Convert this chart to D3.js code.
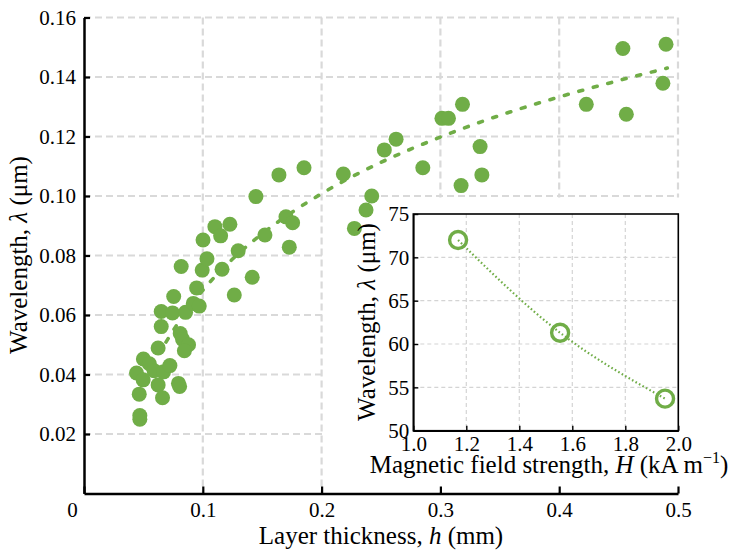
<!DOCTYPE html>
<html>
<head>
<meta charset="utf-8">
<title>Wavelength vs layer thickness</title>
<script src="https://d3js.org/d3.v7.min.js"></script>
<style>
  body { margin: 0; background: #fff; }
  svg text { font-family: "Liberation Serif", "Times New Roman", serif !important; fill: #000; }
</style>
</head>
<body>
<svg id="chart" width="733" height="550"></svg>
<script>
// main scatter: layer thickness h (mm) and wavelength
var thick = [0.047, 0.047, 0.0465, 0.0442, 0.0498, 0.0500, 0.0550, 0.0590, 0.0624, 0.0661,
             0.0670, 0.0723, 0.0795, 0.0805, 0.0624, 0.0650, 0.0650, 0.0745, 0.0755, 0.0855,
             0.0920, 0.0970, 0.0948, 0.0818, 0.0995, 0.1035, 0.1002, 0.1102, 0.1150, 0.1228,
             0.1162, 0.1265, 0.1298, 0.1416, 0.1523, 0.1447, 0.1641, 0.1852, 0.1700, 0.1756,
             0.1728, 0.0810, 0.0830, 0.0880, 0.0845, 0.2183, 0.2276, 0.2374, 0.2422, 0.2528,
             0.2627, 0.2852, 0.3013, 0.3068, 0.3186, 0.3334, 0.3349, 0.3174, 0.4228, 0.4565,
             0.4536, 0.4899, 0.4873];
var wave  = [0.0262, 0.0250, 0.0334, 0.0405, 0.0382, 0.0452, 0.0436, 0.0413, 0.0365, 0.0322,
             0.0409, 0.0430, 0.0370, 0.0360, 0.0489, 0.0561, 0.0612, 0.0607, 0.0662, 0.0609,
             0.0639, 0.0630, 0.0691, 0.0763, 0.0751, 0.0789, 0.0852, 0.0897, 0.0866, 0.0905,
             0.0754, 0.0667, 0.0816, 0.0727, 0.0869, 0.0998, 0.1071, 0.1095, 0.0930, 0.0910,
             0.0828, 0.0538, 0.0518, 0.0500, 0.0480, 0.1074, 0.0891, 0.0953, 0.1000, 0.1155,
             0.1191, 0.1095, 0.1261, 0.1261, 0.1308, 0.1166, 0.1071, 0.1035, 0.1308, 0.1275,
             0.1496, 0.1510, 0.1379];

// dashed trend line
var fitH = [0.069, 0.08, 0.10, 0.125, 0.15, 0.20, 0.25, 0.30, 0.35, 0.40, 0.45, 0.491];
var fitL = [0.0509, 0.0578, 0.0683, 0.0788, 0.0873, 0.1008, 0.1113, 0.1198, 0.1271, 0.1333, 0.1388, 0.1430];

// inset: magnetic field strength H (kA/m) vs wavelength (um)
var field = [1.169, 1.554, 1.95];
var fieldWave = [72.0, 61.3, 53.7];

var xTicks = [0, 0.1, 0.2, 0.3, 0.4, 0.5];
var xLabels = ["0", "0.1", "0.2", "0.3", "0.4", "0.5"];
var yTicks = [0.02, 0.04, 0.06, 0.08, 0.10, 0.12, 0.14, 0.16];
var insetXTicks = [1.0, 1.2, 1.4, 1.6, 1.8, 2.0];
var insetYTicks = [50, 55, 60, 65, 70, 75];

var green = "#70ad47";
var serif = "'Liberation Serif', 'Times New Roman', serif";
var svg = d3.select("#chart");

var x = d3.scaleLinear().domain([0, 0.5]).range([84, 678]);
var y = d3.scaleLinear().domain([0, 0.16]).range([493.5, 17.5]);

// grid
var grid = svg.append("g");
grid.selectAll(".vg").data(xTicks.slice(1)).enter().append("line")
  .attr("x1", function(d){ return x(d); }).attr("x2", function(d){ return x(d); })
  .attr("y1", y(0.16)).attr("y2", y(0));
grid.selectAll(".hg").data(yTicks).enter().append("line")
  .attr("x1", x(0)).attr("x2", x(0.5))
  .attr("y1", function(d){ return y(d); }).attr("y2", function(d){ return y(d); });
grid.selectAll("line")
  .attr("stroke", "#d9d9d9").attr("stroke-width", 2.2).attr("stroke-dasharray", "7 4");

// blank area behind the inset
svg.append("rect")
  .attr("x", x(0.2) + 1.5).attr("y", y(0.1) + 1.5)
  .attr("width", x(0.5) + 3 - x(0.2) - 1.5)
  .attr("height", y(0) - 1.5 - y(0.1) - 1.5)
  .attr("fill", "#fff");

// trend line
var fitLine = d3.line()
  .x(function(d){ return x(d[0]); })
  .y(function(d){ return y(d[1]); })
  .curve(d3.curveMonotoneX);
svg.append("path")
  .attr("d", fitLine(d3.zip(fitH, fitL)))
  .attr("fill", "none").attr("stroke", green).attr("stroke-width", 3.6)
  .attr("stroke-dasharray", "4 11").attr("stroke-linecap", "round");

// points
svg.append("g").selectAll("circle").data(d3.zip(thick, wave)).enter().append("circle")
  .attr("cx", function(d){ return x(d[0]); })
  .attr("cy", function(d){ return y(d[1]); })
  .attr("r", 7.5).attr("fill", green);

// axes
var xAxis = svg.append("g").attr("transform", "translate(0," + y(0) + ")")
  .call(d3.axisBottom(x).tickValues(xTicks).tickSizeInner(-7).tickSizeOuter(0).tickPadding(9)
    .tickFormat(function(d, i){ return xLabels[i]; }));
var yAxis = svg.append("g").attr("transform", "translate(" + x(0) + ",0)")
  .call(d3.axisLeft(y).tickValues(yTicks).tickSizeInner(-6).tickSizeOuter(0).tickPadding(8)
    .tickFormat(d3.format(".2f")));
[xAxis, yAxis].forEach(function(a){
  a.attr("font-size", 21).attr("font-family", null);
  a.selectAll("text").style("font-family", serif).style("font-size", "21px");
  a.select(".domain").attr("stroke-width", 2.5);
  a.selectAll(".tick line").attr("stroke-width", 2.2);
});
xAxis.select(".tick text").attr("dx", -12);

// axis titles
var xt = svg.append("text").attr("x", 381).attr("y", 544).attr("text-anchor", "middle").attr("font-size", 25);
xt.append("tspan").text("Layer thickness, ");
xt.append("tspan").attr("font-style", "italic").text("h");
xt.append("tspan").text(" (mm)");

var yt = svg.append("text").attr("transform", "translate(27,255) rotate(-90)")
  .attr("text-anchor", "middle").attr("font-size", 25);
yt.append("tspan").text("Wavelength, ");
yt.append("tspan").attr("font-style", "italic").text("λ");
yt.append("tspan").text(" (μm)");

// ---- inset ----
var ix = d3.scaleLinear().domain([1, 2]).range([413.3, 678.3]);
var iy = d3.scaleLinear().domain([50, 75]).range([430.7, 214]);

var ig = svg.append("g");
ig.append("rect").attr("x", ix(1)).attr("y", iy(75))
  .attr("width", ix(2) - ix(1)).attr("height", iy(50) - iy(75)).attr("fill", "#fff");
ig.selectAll(".ivg").data(insetXTicks.slice(1, -1)).enter().append("line")
  .attr("class", "ig")
  .attr("x1", function(d){ return ix(d); }).attr("x2", function(d){ return ix(d); })
  .attr("y1", iy(75)).attr("y2", iy(50));
ig.selectAll(".ihg").data(insetYTicks.slice(1, -1)).enter().append("line")
  .attr("class", "ig")
  .attr("x1", ix(1)).attr("x2", ix(2))
  .attr("y1", function(d){ return iy(d); }).attr("y2", function(d){ return iy(d); });
ig.selectAll("line.ig")
  .attr("stroke", "#d4d4d4").attr("stroke-width", 1.2).attr("stroke-dasharray", "4 3");

var ixAxis = ig.append("g").attr("transform", "translate(0," + iy(50) + ")")
  .call(d3.axisBottom(ix).tickValues(insetXTicks).tickSizeInner(-5).tickSizeOuter(0).tickPadding(5)
    .tickFormat(d3.format(".1f")));
var iyAxis = ig.append("g").attr("transform", "translate(" + ix(1) + ",0)")
  .call(d3.axisLeft(iy).tickValues(insetYTicks).tickSizeInner(-5).tickSizeOuter(0).tickPadding(4));
[ixAxis, iyAxis].forEach(function(a){
  a.attr("font-size", 21).attr("font-family", null);
  a.selectAll("text").style("font-family", serif).style("font-size", "21px");
  a.select(".domain").attr("stroke-width", 1.6);
  a.selectAll(".tick line").attr("stroke-width", 1.4);
});
ig.append("rect").attr("x", ix(1)).attr("y", iy(75))
  .attr("width", ix(2) - ix(1)).attr("height", iy(50) - iy(75))
  .attr("fill", "none").attr("stroke", "#000").attr("stroke-width", 1.6);

var insetLine = d3.line()
  .x(function(d){ return ix(d[0]); })
  .y(function(d){ return iy(d[1]); })
  .curve(d3.curveNatural);
ig.append("path").attr("d", insetLine(d3.zip(field, fieldWave)))
  .attr("fill", "none").attr("stroke", green).attr("stroke-width", 2.2)
  .attr("stroke-dasharray", "1.6 2.4");
ig.selectAll(".ic").data(d3.zip(field, fieldWave)).enter().append("circle")
  .attr("cx", function(d){ return ix(d[0]); })
  .attr("cy", function(d){ return iy(d[1]); })
  .attr("r", 8.5).attr("fill", "none").attr("stroke", green).attr("stroke-width", 3.4);

var ixt = svg.append("text").attr("x", 549).attr("y", 473).attr("text-anchor", "middle").attr("font-size", 25);
ixt.append("tspan").text("Magnetic field strength, ");
ixt.append("tspan").attr("font-style", "italic").text("H");
ixt.append("tspan").text(" (kA m");
ixt.append("tspan").attr("font-size", 16).attr("dy", -10).text("−1");
ixt.append("tspan").attr("dy", 10).text(")");

var iyt = svg.append("text").attr("transform", "translate(375,322) rotate(-90)")
  .attr("text-anchor", "middle").attr("font-size", 25);
iyt.append("tspan").text("Wavelength, ");
iyt.append("tspan").attr("font-style", "italic").text("λ");
iyt.append("tspan").text(" (μm)");
</script>
</body>
</html>
